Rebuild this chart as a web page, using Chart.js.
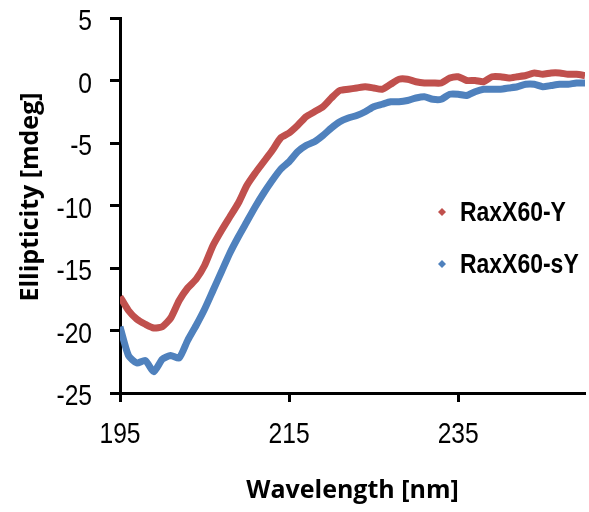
<!DOCTYPE html>
<html>
<head>
<meta charset="utf-8">
<script src="https://cdn.jsdelivr.net/npm/chart.js@4/dist/chart.umd.min.js"></script>
<style>
  html, body { margin: 0; padding: 0; background: #fff; }
  #wrap { width: 589px; height: 512px; }
</style>
</head>
<body>
<div id="wrap"><canvas id="cdChart" width="589" height="512"></canvas></div>
<script>
// wavelength (nm)
const wavelengths = [195, 196, 197, 198, 199, 200, 201, 202, 203, 204, 205, 206, 207, 208, 209,
    210, 211, 212, 213, 214, 215, 216, 217, 218, 219, 220, 221, 222, 223, 224, 225, 226, 227,
    228, 229, 230, 231, 232, 233, 234, 235, 236, 237, 238, 239, 240, 241, 242, 243, 244, 245,
    246, 247, 248, 249, 250];

// ellipticity (mdeg)
const raxY = [-17.3, -18.4, -19.1, -19.5, -19.8, -19.7, -19.0, -17.6, -16.6, -15.9, -14.8,
    -13.2, -12.0, -10.9, -9.8, -8.4, -7.4, -6.5, -5.6, -4.6, -4.2, -3.6, -2.9, -2.5, -2.1,
    -1.4, -0.8, -0.7, -0.6, -0.5, -0.6, -0.7, -0.3, 0.1, 0.1, -0.1, -0.2, -0.2, -0.2, 0.2,
    0.3, 0.0, 0.0, -0.1, 0.3, 0.3, 0.2, 0.3, 0.4, 0.6, 0.5, 0.6, 0.6, 0.5, 0.5, 0.4];

const raxSY = [-19.7, -22.0, -22.6, -22.4, -23.3, -22.3, -22.0, -22.2, -20.8, -19.6, -18.3,
    -16.8, -15.3, -13.8, -12.5, -11.3, -10.1, -9.0, -8.0, -7.1, -6.5, -5.7, -5.2, -4.9, -4.4,
    -3.8, -3.3, -3.0, -2.8, -2.5, -2.1, -1.9, -1.7, -1.7, -1.6, -1.4, -1.3, -1.5, -1.5, -1.1,
    -1.1, -1.2, -0.9, -0.7, -0.7, -0.7, -0.6, -0.5, -0.3, -0.3, -0.5, -0.4, -0.3, -0.3, -0.2,
    -0.2];

const seriesNames = ['RaxX60-Y', 'RaxX60-sY'];
const xTicks = [195, 215, 235];
const yTitle = 'Ellipticity [mdeg]';
const xTitle = 'Wavelength [nm]';

const SANS = "'Liberation Sans', Arial, sans-serif";
const titleFont = { family: "'Open Sans', 'Liberation Sans', Arial, sans-serif", size: 25, weight: 'bold' };

const toPoints = (vals) => vals.map((v, i) => ({ x: wavelengths[i], y: v }));

// the original text is narrow/tall, so squeeze it horizontally
const narrowText = (ctx, text, x, y, sx) => {
    ctx.save();
    ctx.translate(x, y);
    ctx.scale(sx, 1);
    ctx.fillText(text, 0, 0);
    ctx.restore();
};

// Tick labels, y title and in-plot legend
const labelsPlugin = {
    id: 'labelsPlugin',
    afterDraw(chart) {
        const ctx = chart.ctx;
        const xs = chart.scales.x;
        const ys = chart.scales.y;
        ctx.save();
        ctx.fillStyle = '#000';
        ctx.font = '30px ' + SANS;
        ctx.textBaseline = 'alphabetic';

        ctx.textAlign = 'right';
        ys.ticks.forEach(t => {
            narrowText(ctx, String(t.value), 92, ys.getPixelForValue(t.value) + 12, 0.82);
        });

        ctx.textAlign = 'center';
        xs.ticks.forEach(t => {
            narrowText(ctx, String(t.value), xs.getPixelForValue(t.value), 443, 0.82);
        });

        // y title
        ctx.save();
        ctx.translate(31, 197);
        ctx.rotate(-Math.PI / 2);
        ctx.font = 'bold 25px ' + titleFont.family;
        ctx.textAlign = 'center';
        ctx.textBaseline = 'middle';
        ctx.fillText(yTitle, 0, 0);
        ctx.restore();

        // legend
        const rows = [212, 264];
        ctx.font = 'bold 28px ' + SANS;
        ctx.textAlign = 'left';
        ctx.textBaseline = 'middle';
        chart.data.datasets.forEach((ds, i) => {
            const y = rows[i];
            ctx.fillStyle = ds.borderColor;
            ctx.beginPath();
            ctx.moveTo(442, y - 4);
            ctx.lineTo(446, y);
            ctx.lineTo(442, y + 4);
            ctx.lineTo(438, y);
            ctx.closePath();
            ctx.fill();
            ctx.fillStyle = '#000';
            narrowText(ctx, ds.label, 460, y + 1, 0.82);
        });
        ctx.restore();
    }
};

new Chart(document.getElementById('cdChart'), {
    type: 'line',
    data: {
        datasets: [{
            label: seriesNames[0],
            data: toPoints(raxY),
            borderColor: '#C0504D',
            borderWidth: 7,
            pointRadius: 0,
            tension: 0.2
        }, {
            label: seriesNames[1],
            data: toPoints(raxSY),
            borderColor: '#4F81BD',
            borderWidth: 7,
            pointRadius: 0,
            tension: 0.2
        }]
    },
    options: {
        responsive: false,
        animation: false,
        layout: { padding: { top: 18, right: 4, left: 0, bottom: 0 } },
        plugins: {
            legend: { display: false },
            tooltip: { enabled: false }
        },
        scales: {
            x: {
                type: 'linear',
                min: 195,
                max: 250,
                afterBuildTicks: (scale) => { scale.ticks = xTicks.map(v => ({ value: v })); },
                afterFit: (scale) => { scale.height = 119; },
                border: { display: true, color: '#000', width: 3 },
                grid: { drawOnChartArea: false, drawTicks: true, tickLength: 9, tickColor: '#000', tickWidth: 3 },
                ticks: { display: false },
                title: { display: true, text: xTitle, color: '#000', font: titleFont, padding: { top: 0, bottom: 6 } }
            },
            y: {
                min: -25,
                max: 5,
                afterFit: (scale) => { scale.width = 120; },
                border: { display: true, color: '#000', width: 3 },
                grid: { drawOnChartArea: false, drawTicks: true, tickLength: 10, tickColor: '#000', tickWidth: 3 },
                ticks: { display: false, stepSize: 5 }
            }
        }
    },
    plugins: [labelsPlugin]
});
</script>
</body>
</html>
